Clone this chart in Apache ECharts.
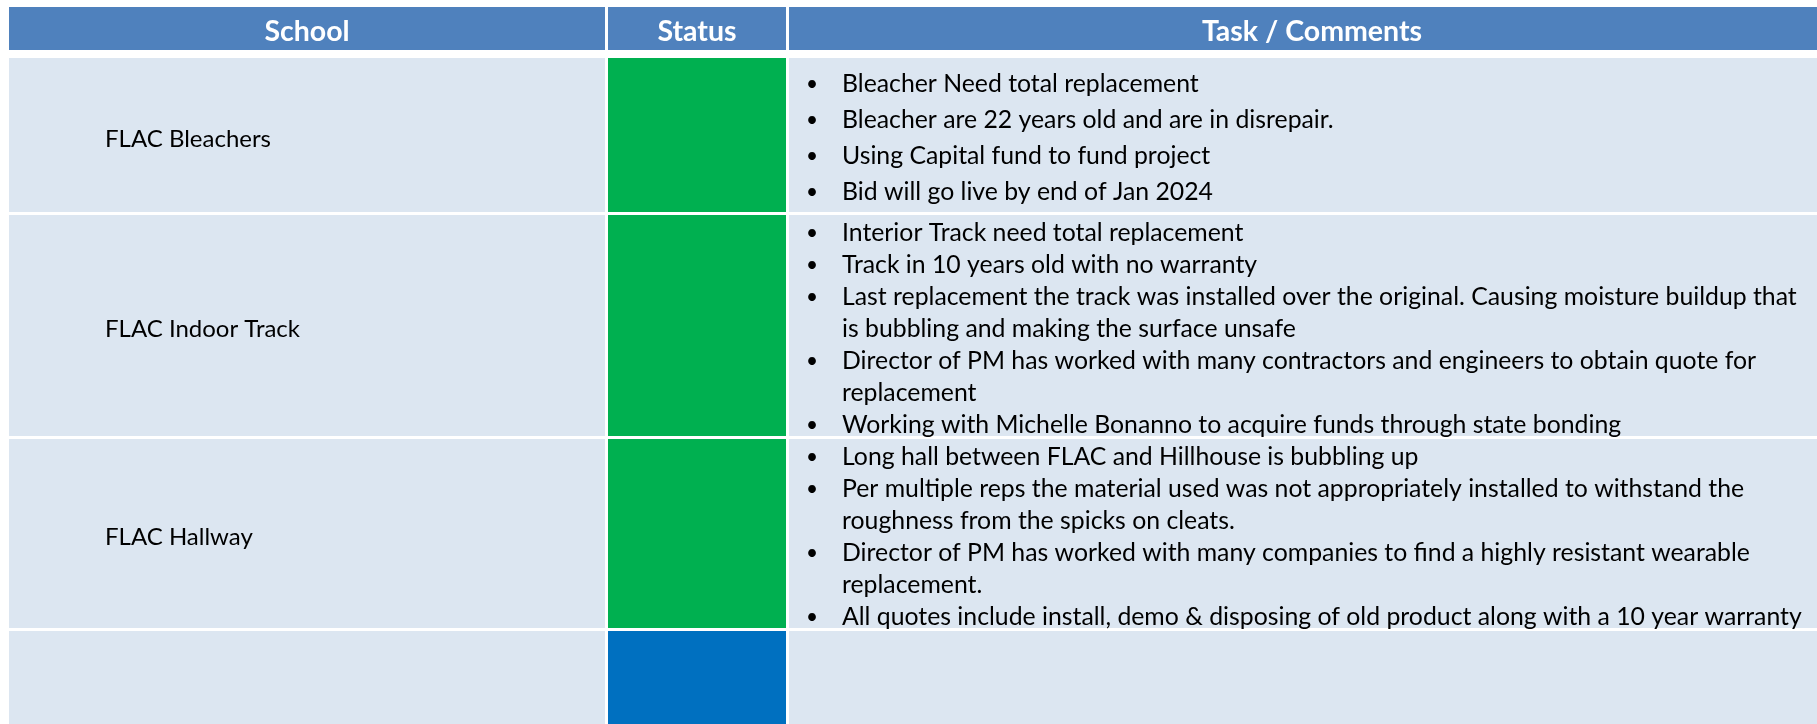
<!DOCTYPE html>
<html><head><meta charset="utf-8">
<script src="https://cdn.jsdelivr.net/npm/echarts@6/dist/echarts.min.js"></script>
<style>html,body{margin:0;padding:0;background:#fff;}#c{width:1817px;height:724px;}</style>
</head><body><div id="c"></div>
<script>
// ---------- data ----------
const headers = ['School', 'Status', 'Task / Comments'];
const schools = ['FLAC Bleachers', 'FLAC Indoor Track', 'FLAC Hallway', ''];
const statuses = ['Green', 'Green', 'Green', 'Blue'];
const comments = [
  ['Bleacher Need total replacement',
   'Bleacher are 22 years old and are in disrepair.',
   'Using Capital fund to fund project',
   'Bid will go live by end of Jan 2024'],
  ['Interior Track need total replacement',
   'Track in 10 years old with no warranty',
   'Last replacement the track was installed over the original. Causing moisture buildup that\nis bubbling and making the surface unsafe',
   'Director of PM has worked with many contractors and engineers to obtain quote for\nreplacement',
   'Working with Michelle Bonanno to acquire funds through state bonding'],
  ['Long hall between FLAC and Hillhouse is bubbling up',
   'Per multiple reps the material used was not appropriately installed to withstand the\nroughness from the spicks on cleats.',
   'Director of PM has worked with many companies to find a highly resistant wearable\nreplacement.',
   'All quotes include install, demo & disposing of old product along with a 10 year warranty'],
  []
];

// ---------- layout / style ----------
const W = 1817, H = 724;
const layout = {
  top: 7, headerHeight: 43, headerGap: 8, gap: 3,
  cols: [[9, 605], [608, 786], [789, 1835]],
  lineHeights: [36, 32, 32, 32],
  rowPadding: [13, 0, 0, 0],
  schoolIndent: 96, bulletX: 806, textX: 842,
  headDy: 3, labelDy: 4, textDy: 2
};
const colors = { header: '#4F81BD', cell: '#DCE6F1', Green: '#00B050', Blue: '#0070C0' };
const FONT = 'Lato, "Open Sans", sans-serif';
const bodySize = 24.8, labelSize = 24, headSize = 28.5;

// row spans in axis units (y axis: 0 = layout.top, inverted)
const spans = [];
(function () {
  let y = layout.headerHeight + layout.headerGap;
  comments.forEach((items, i) => {
    const lines = items.reduce((s, t) => s + t.split('\n').length, 0);
    const pitch = lines ? lines * layout.lineHeights[i] + layout.rowPadding[i] : (H - layout.top - y + layout.gap);
    spans.push([y, y + pitch - layout.gap]);
    y += pitch;
  });
})();

function renderItem(params, api) {
  const r = params.dataIndex - 1; // -1 => header
  const children = [];
  const y0 = r < 0 ? 0 : spans[r][0];
  const y1 = r < 0 ? layout.headerHeight : spans[r][1];
  layout.cols.forEach((c, ci) => {
    const p0 = api.coord([c[0], y0]);
    const p1 = api.coord([c[1], y1]);
    const fill = r < 0 ? colors.header : (ci === 1 ? colors[statuses[r]] : colors.cell);
    children.push({ type: 'rect', shape: { x: p0[0], y: p0[1], width: p1[0] - p0[0], height: p1[1] - p0[1] }, style: { fill } });
    if (r < 0) {
      children.push({ type: 'text', style: { text: headers[ci], x: (p0[0] + p1[0]) / 2, y: (p0[1] + p1[1]) / 2 + layout.headDy,
        align: 'center', verticalAlign: 'middle', fill: '#fff', font: 'bold ' + headSize + 'px ' + FONT } });
    }
  });
  if (r >= 0) {
    const a = api.coord([layout.cols[0][0] + layout.schoolIndent, (y0 + y1) / 2 + layout.labelDy]);
    children.push({ type: 'text', style: { text: schools[r], x: a[0], y: a[1], align: 'left', verticalAlign: 'middle',
      fill: '#000', font: labelSize + 'px ' + FONT } });
    const lh = layout.lineHeights[r];
    const lines = [];
    comments[r].forEach(item => item.split('\n').forEach((ln, k) => lines.push([ln, k === 0])));
    const block = lines.length * lh;
    const start = (y0 + y1 + layout.gap) / 2 - block / 2 + layout.textDy;
    lines.forEach((l, k) => {
      const yc = start + (k + 0.5) * lh;
      const pt = api.coord([layout.textX, yc]);
      children.push({ type: 'text', style: { text: l[0], x: pt[0], y: pt[1], align: 'left', verticalAlign: 'middle',
        fill: '#000', font: bodySize + 'px ' + FONT } });
      if (l[1]) {
        const pb = api.coord([layout.bulletX, yc]);
        children.push({ type: 'text', style: { text: '\u2022', x: pb[0], y: pb[1], align: 'left', verticalAlign: 'middle',
          fill: '#000', font: (bodySize - 4) + 'px ' + FONT } });
      }
    });
  }
  return { type: 'group', children };
}

const chart = echarts.init(document.getElementById('c'), null, { renderer: 'canvas' });
chart.setOption({
  backgroundColor: '#fff',
  animation: false,
  grid: { left: 0, right: 0, top: layout.top, bottom: 0 },
  xAxis: { type: 'value', min: 0, max: W, show: false },
  yAxis: { type: 'value', min: 0, max: H - layout.top, inverse: true, show: false },
  series: [{
    type: 'custom', renderItem, clip: false,
    data: [-1].concat(schools.map((s, i) => i)).map(v => [v])
  }]
});
</script></body></html>
